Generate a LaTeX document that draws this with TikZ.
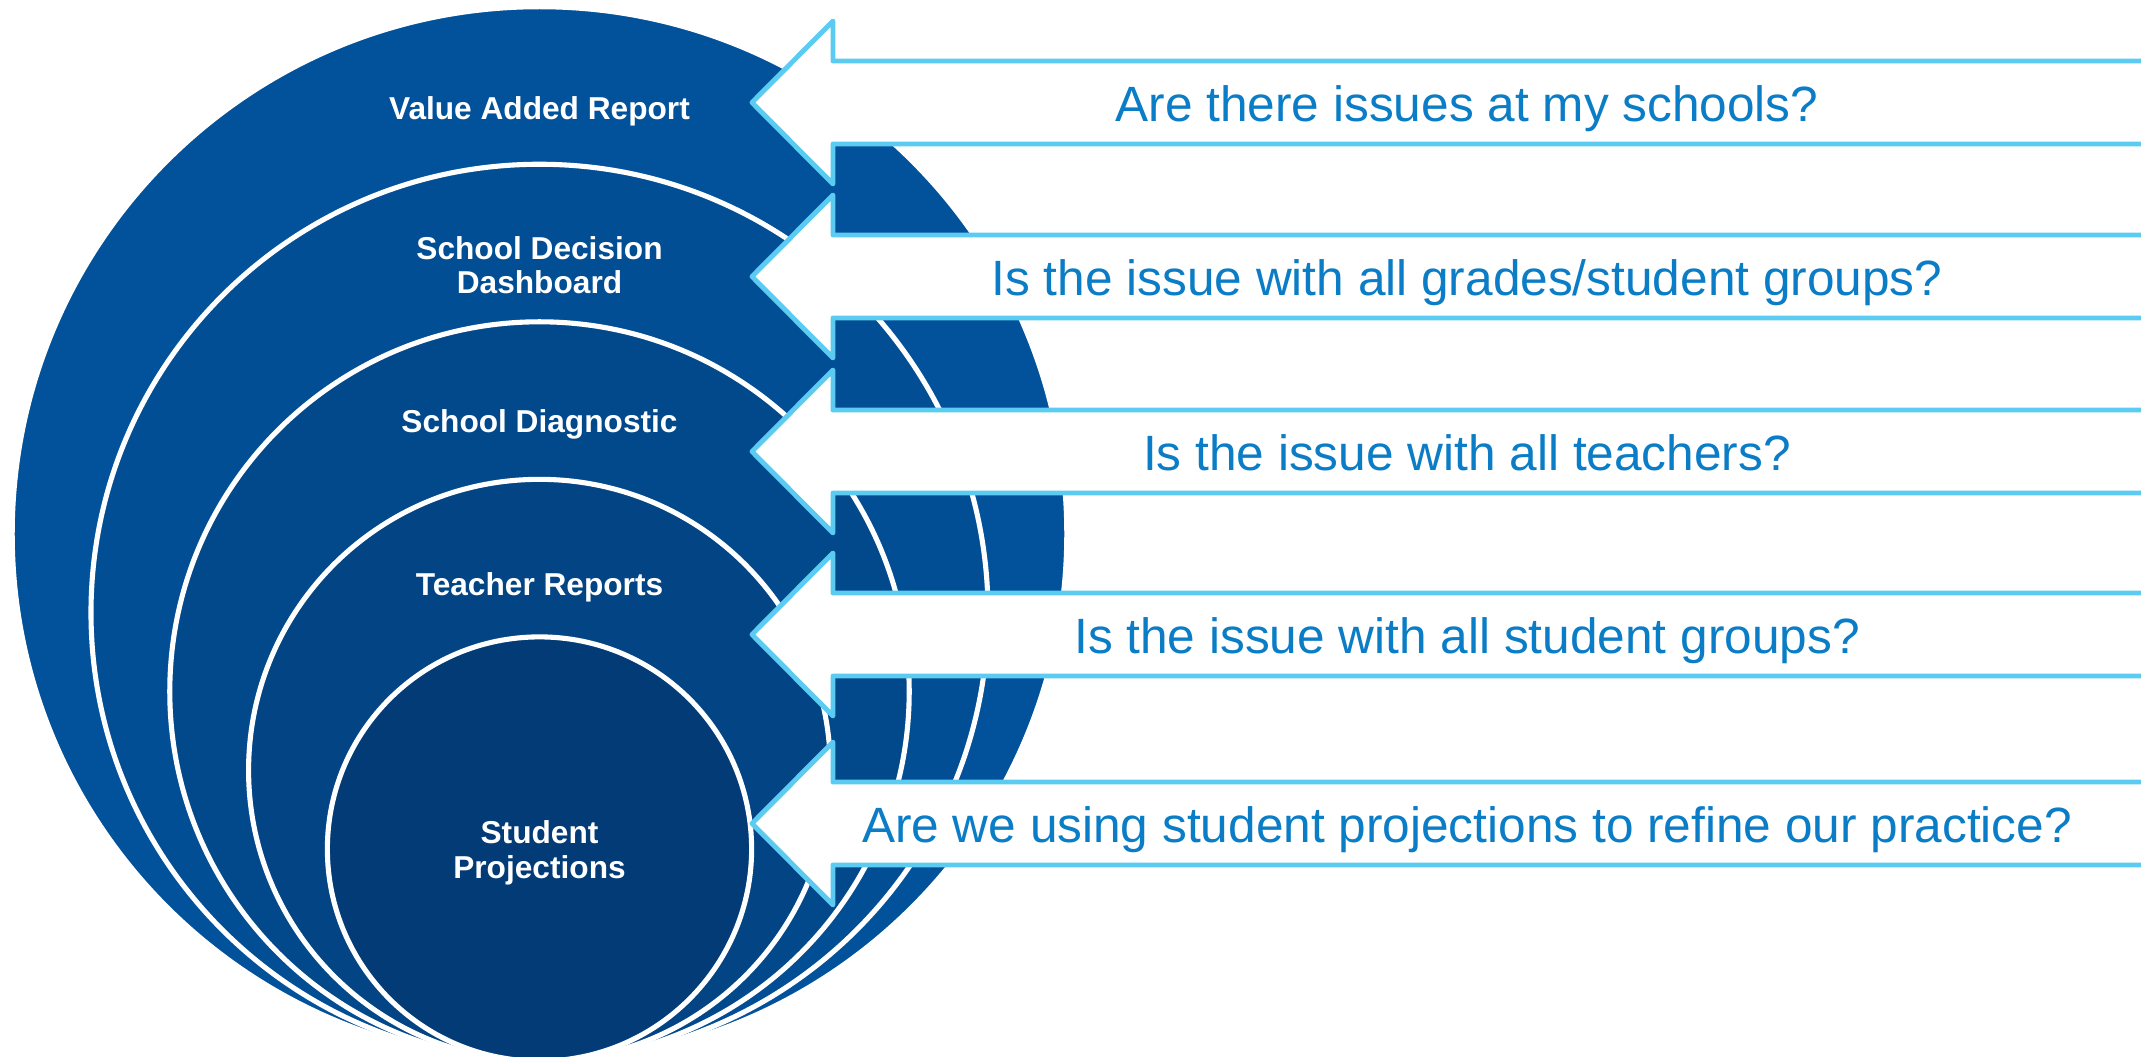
\documentclass[tikz,border=0pt]{standalone}
\usepackage{fontspec}
\setmainfont{Liberation Sans}
\definecolor{ringA}{HTML}{02529B}
\definecolor{ringB}{HTML}{024E94}
\definecolor{ringC}{HTML}{02498C}
\definecolor{ringD}{HTML}{034484}
\definecolor{ringE}{HTML}{023B75}
\definecolor{arrowline}{HTML}{5BCBF1}
\definecolor{qtext}{HTML}{0A7DC6}
\begin{document}
\begin{tikzpicture}[x=0.01cm,y=-0.01cm,
  ring/.style={circle, inner sep=0pt, outer sep=0pt, draw=white, line width=1.45pt},
  lab/.style={text=white, font=\bfseries\fontsize{9pt}{9.8pt}\selectfont, align=center, inner sep=0pt},
  qarrow/.style={draw=arrowline, fill=white, line width=1.4pt, line join=round},
  qlab/.style={text=qtext, font=\fontsize{14.1pt}{17pt}\selectfont, inner sep=0pt, anchor=base}]
\useasboundingbox (0,0) rectangle (2141,1057);
\clip (0,0) rectangle (2141,1057);
% nested circles
\node[ring, fill=ringA, minimum size=10.54cm]  (c1) at (539.5,534) {};
\node[ring, fill=ringB, minimum size=8.965cm]  (c2) at (539.5,612.75) {};
\node[ring, fill=ringC, minimum size=7.39cm]   (c3) at (539.5,691.5) {};
\node[ring, fill=ringD, minimum size=5.815cm]  (c4) at (539.5,770.25) {};
\node[ring, fill=ringE, minimum size=4.24cm]   (c5) at (539.5,849) {};
% circle labels
\node[lab, anchor=base] (l1) at (539.5,119) {Value Added Report};
\node[lab] (l2) at (539.5,265) {School Decision\\Dashboard};
\node[lab, anchor=base] (l3) at (539.5,432) {School Diagnostic};
\node[lab, anchor=base] (l4) at (539.5,595) {Teacher Reports};
\node[lab] (l5) at (539.5,853) {Student\\Projections};
% arrows
\draw[qarrow] (752,102.5) -- (833,21) -- (833,61) -- (2200,61) -- (2200,144) -- (833,144) -- (833,184) -- cycle;
\draw[qarrow] (752,276.5) -- (833,195) -- (833,235) -- (2200,235) -- (2200,318) -- (833,318) -- (833,358) -- cycle;
\draw[qarrow] (752,451.5) -- (833,370) -- (833,410) -- (2200,410) -- (2200,493) -- (833,493) -- (833,533) -- cycle;
\draw[qarrow] (752,634.5) -- (833,553) -- (833,593) -- (2200,593) -- (2200,676) -- (833,676) -- (833,716) -- cycle;
\draw[qarrow] (752,823.5) -- (833,742) -- (833,782) -- (2200,782) -- (2200,865) -- (833,865) -- (833,905) -- cycle;
% question texts
\node[qlab] (q1) at (1467,121) {Are there issues at my schools?};
\node[qlab] (q2) at (1467,295) {Is the issue with all grades/student groups?};
\node[qlab] (q3) at (1467,470) {Is the issue with all teachers?};
\node[qlab] (q4) at (1467,653) {Is the issue with all student groups?};
\node[qlab] (q5) at (1467,842) {Are we using student projections to refine our practice?};
\end{tikzpicture}
\end{document}
